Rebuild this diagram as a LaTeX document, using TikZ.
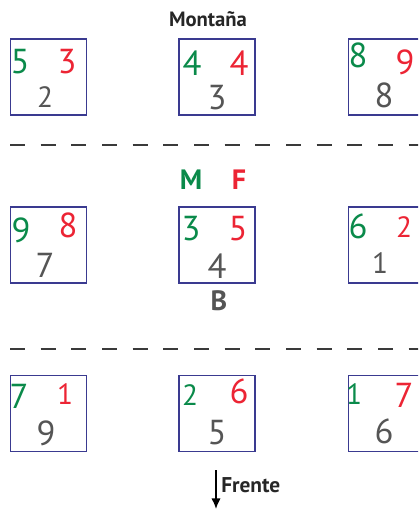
\documentclass[tikz,border=0pt]{standalone}
\usepackage{fontspec}
\setmainfont{PT Sans}
\usepackage{tikz}
\usetikzlibrary{arrows.meta,positioning}

\definecolor{boxblue}{HTML}{3A3A90}
\definecolor{mgreen}{HTML}{0A8A4A}
\definecolor{fred}{HTML}{EC2434}
\definecolor{bgray}{HTML}{555555}
\definecolor{dashgray}{HTML}{3A3A3A}

\begin{document}
\begin{tikzpicture}[
    x=0.75pt, y=-0.75pt,
    cell/.style={draw=boxblue, line width=1.4pt, minimum width=57pt, minimum height=57pt, inner sep=0pt},
    dg/.style={text=mgreen, inner sep=0pt, font=\fontsize{26}{26}\selectfont},
    dr/.style={text=fred, inner sep=0pt, font=\fontsize{26}{26}\selectfont},
    db/.style={text=bgray, inner sep=0pt, font=\fontsize{26}{26}\selectfont},
    small/.style={font=\fontsize{22}{22}\selectfont},
    head/.style={inner sep=0pt, font=\fontsize{21}{21}\selectfont\bfseries},
    sep/.style={dashgray, line width=1.5pt, dash pattern=on 11.25pt off 11.75pt},
    arr/.style={-{Latex[length=8pt,width=7pt]}, line width=1.1pt, black},
]
  \useasboundingbox (0,0) rectangle (418,509);
  \clip (0,0) rectangle (418,509);

  % upper row
  \node[head, text=black!85, font=\fontsize{15.5}{15.5}\selectfont\bfseries] (mont) at (208,19) {Montaña};
  \node[cell] (c11) at (48.5,77)  {};
  \node[cell] (c12) at (217,77)   {};
  \node[cell] (c13) at (386.5,77) {};
  \node[dg] (g11) at (20,62)   {5};
  \node[dr] (r11) at (67,62)   {3};
  \node[db, small] (b11) at (45,97) {2};
  \node[dg] (g12) at (192,63)  {4};
  \node[dr] (r12) at (239,63)  {4};
  \node[db] (b12) at (217,98)  {3};
  \node[dg] (g13) at (358,55)  {8};
  \node[dr] (r13) at (405,62)  {9};
  \node[db] (b13) at (384,95)  {8};

  \coordinate (s1a) at (10,145);
  \coordinate (s1b) at (440,145);
  \draw[sep] (s1a) -- (s1b);

  % middle row
  \node[head, text=mgreen] (lm) at (191,180) {M};
  \node[head, text=fred]   (lf) at (239,180) {F};
  \node[cell] (c21) at (48.5,245)  {};
  \node[cell] (c22) at (217,245)   {};
  \node[cell] (c23) at (386.5,245) {};
  \node[head, text=bgray] (lb) at (219,301) {B};
  \node[dg] (g21) at (21,230)  {9};
  \node[dr] (r21) at (68,225)  {8};
  \node[db] (b21) at (45,265)  {7};
  \node[dg] (g22) at (191,229) {3};
  \node[dr] (r22) at (238,229) {5};
  \node[db] (b22) at (217,266) {4};
  \node[dg] (g23) at (358,226) {6};
  \node[dr, small] (r23) at (404,227) {2};
  \node[db, small] (b23) at (380,263) {1};

  \coordinate (s2a) at (10,349);
  \coordinate (s2b) at (440,349);
  \draw[sep] (s2a) -- (s2b);

  % lower row
  \node[cell] (c31) at (48.5,413.5)  {};
  \node[cell] (c32) at (217,413.5)   {};
  \node[cell] (c33) at (386.5,413.5) {};
  \node[dg] (g31) at (19,396)  {7};
  \node[dr, small] (r31) at (65,394) {1};
  \node[db] (b31) at (46,433)  {9};
  \node[dg, small] (g32) at (190,395) {2};
  \node[dr] (r32) at (239,391) {6};
  \node[db] (b32) at (217,433) {5};
  \node[dg, small] (g33) at (354,394) {1};
  \node[dr] (r33) at (404,395) {7};
  \node[db] (b33) at (384,431) {6};

  % front
  \coordinate (ftop) at (216,470);
  \coordinate (fend) at (216,509);
  \draw[arr] (ftop) -- (fend);
  \node[head, anchor=west, text=black!85, font=\fontsize{16}{16}\selectfont\bfseries] (front) at (221,485) {Frente};
\end{tikzpicture}
\end{document}
